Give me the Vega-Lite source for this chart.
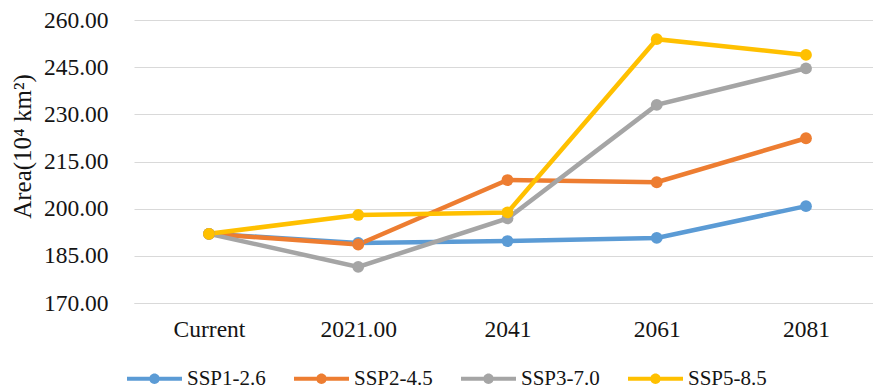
{
  "$schema": "https://vega.github.io/schema/vega-lite/v6.json",
  "width": 739,
  "height": 283,
  "autosize": {"type": "none"},
  "padding": {"left": 134, "top": 20, "right": 0, "bottom": 88},
  "background": "white",
  "config": {
    "view": {"stroke": null},
    "font": "Liberation Serif"
  },
  "data": {
    "values": [
      {"period": "Current", "scenario": "SSP1-2.6", "area": 192.0},
      {"period": "2021.00", "scenario": "SSP1-2.6", "area": 189.1},
      {"period": "2041", "scenario": "SSP1-2.6", "area": 189.7},
      {"period": "2061", "scenario": "SSP1-2.6", "area": 190.7},
      {"period": "2081", "scenario": "SSP1-2.6", "area": 200.8},
      {"period": "Current", "scenario": "SSP2-4.5", "area": 192.0},
      {"period": "2021.00", "scenario": "SSP2-4.5", "area": 188.6},
      {"period": "2041", "scenario": "SSP2-4.5", "area": 209.1},
      {"period": "2061", "scenario": "SSP2-4.5", "area": 208.4},
      {"period": "2081", "scenario": "SSP2-4.5", "area": 222.4},
      {"period": "Current", "scenario": "SSP3-7.0", "area": 192.0},
      {"period": "2021.00", "scenario": "SSP3-7.0", "area": 181.5},
      {"period": "2041", "scenario": "SSP3-7.0", "area": 196.9},
      {"period": "2061", "scenario": "SSP3-7.0", "area": 233.0},
      {"period": "2081", "scenario": "SSP3-7.0", "area": 244.6},
      {"period": "Current", "scenario": "SSP5-8.5", "area": 192.0},
      {"period": "2021.00", "scenario": "SSP5-8.5", "area": 198.0},
      {"period": "2041", "scenario": "SSP5-8.5", "area": 198.8},
      {"period": "2061", "scenario": "SSP5-8.5", "area": 253.9},
      {"period": "2081", "scenario": "SSP5-8.5", "area": 248.9}
    ]
  },
  "encoding": {
    "x": {
      "field": "period",
      "type": "ordinal",
      "sort": ["Current", "2021.00", "2041", "2061", "2081"],
      "scale": {"type": "point", "padding": 0.4757, "align": 0.528},
      "axis": {
        "title": null,
        "labelAngle": 0,
        "labelFont": "Liberation Serif",
        "labelFontSize": 23.5,
        "labelColor": "#141414",
        "labelPadding": 14,
        "ticks": false,
        "domainColor": "#d9d9d9",
        "domainWidth": 1.2,
        "grid": false
      }
    },
    "y": {
      "field": "area",
      "type": "quantitative",
      "scale": {"domain": [170, 260], "nice": false, "zero": false},
      "axis": {
        "title": "Area(10⁴ km²)",
        "titleFont": "Liberation Serif",
        "titleFontSize": 25,
        "titleFontWeight": "normal",
        "titleColor": "#141414",
        "titleX": -112,
        "titleY": 126,
        "titleAngle": -90,
        "titleAlign": "center",
        "titleBaseline": "middle",
        "values": [170, 185, 200, 215, 230, 245, 260],
        "format": ".2f",
        "labelFont": "Liberation Serif",
        "labelFontSize": 23.5,
        "labelColor": "#141414",
        "labelPadding": 26,
        "ticks": false,
        "domain": false,
        "grid": true,
        "gridColor": "#d9d9d9",
        "gridWidth": 1.2
      }
    },
    "color": {
      "field": "scenario",
      "type": "nominal",
      "scale": {
        "domain": ["SSP1-2.6", "SSP2-4.5", "SSP3-7.0", "SSP5-8.5"],
        "range": ["#5b9bd5", "#ed7d31", "#a5a5a5", "#ffc000"]
      },
      "legend": {
        "title": null,
        "orient": "none",
        "direction": "horizontal",
        "columns": 4,
        "legendX": -7,
        "legendY": 331,
        "symbolType": "M-1,-0.075L1,-0.075L1,0.075L-1,0.075Z M0.19,0A0.19,0.19,0,1,1,-0.19,0A0.19,0.19,0,1,1,0.19,0Z",
        "symbolSize": 3025,
        "symbolStrokeWidth": 0,
        "labelFont": "Liberation Serif",
        "labelFontSize": 21,
        "labelColor": "#141414",
        "labelOffset": 5,
        "columnPadding": 28,
        "encode": {
          "symbols": {
            "update": {
              "fill": {"scale": "color", "field": "value"},
              "fillOpacity": {"value": 1},
              "strokeWidth": {"value": 0}
            }
          }
        }
      }
    }
  },
  "layer": [
    {"mark": {"type": "line", "strokeWidth": 4.5}},
    {"mark": {"type": "point", "filled": true, "size": 140, "opacity": 1}}
  ]
}
